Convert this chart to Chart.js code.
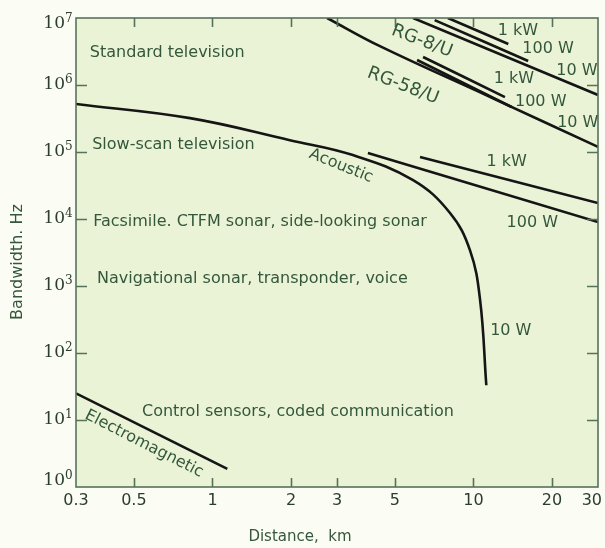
<!DOCTYPE html>
<html>
<head>
<meta charset="utf-8">
<title>Bandwidth vs distance</title>
<script src="https://cdn.jsdelivr.net/npm/chart.js@4/dist/chart.umd.min.js"></script>
<style>
  html, body { margin: 0; padding: 0; background: #fbfcf3; }
  #wrap { width: 605px; height: 548px; }
</style>
</head>
<body>
<div id="wrap"><canvas id="chart" width="605" height="548"></canvas></div>
<script>
// axis ticks
const xTicks = [0.3, 0.5, 1, 2, 3, 5, 10, 20, 30];
const xTickLabels = ['0.3', '0.5', '1', '2', '3', '5', '10', '20', '30'];
const yExponents = [0, 1, 2, 3, 4, 5, 6, 7];

// acoustic links (distance km, bandwidth Hz)
const acoustic10WKm = [0.3, 0.82, 1.98, 3.45, 5.87, 8.13, 9.7, 10.6, 11.2];
const acoustic10WHz = [5.2e5, 3.2e5, 1.5e5, 9.0e4, 3.8e4, 1.23e4, 3.4e3, 620, 33];
const acoustic100WKm = [3.94, 30];
const acoustic100WHz = [9.7e4, 9.0e3];
const acoustic1kWKm = [6.24, 30];
const acoustic1kWHz = [8.4e4, 1.73e4];

// coaxial cable RG-8/U
const rg8_10WKm = [5.87, 30];
const rg8_10WHz = [1e7, 7.1e5];
const rg8_100WKm = [7.1, 16.2];
const rg8_100WHz = [9.3e6, 2.28e6];
const rg8_1kWKm = [7.98, 13.6];
const rg8_1kWHz = [1e7, 4.1e6];

// coaxial cable RG-58/U
const rg58_10WKm = [2.75, 4.38, 11.6, 30];
const rg58_10WHz = [1e7, 3.8e6, 6.6e5, 1.19e5];
const rg58_100WKm = [6.08, 14.0];
const rg58_100WHz = [2.36e6, 4.7e5];
const rg58_1kWKm = [6.41, 13.2];
const rg58_1kWHz = [2.62e6, 6.6e5];

// electromagnetic (low frequency) link
const emKm = [0.3, 1.14];
const emHz = [25, 1.86];

const plotFill = '#ebf3d6';
const frameColor = '#55725a';
const textColor = '#33573b';
const numColor = '#2c3d2e';
const inkColor = '#151515';
const labelFont = '16px "DejaVu Sans"';

// application bands, left aligned
const bandLabels = [
  { text: 'Standard television', km: 0.339, hz: 3.0e6 },
  { text: 'Slow-scan television', km: 0.346, hz: 1.27e5 },
  { text: 'Facsimile. CTFM sonar, side-looking sonar', km: 0.349, hz: 9.0e3 },
  { text: 'Navigational sonar, transponder, voice', km: 0.361, hz: 1.27e3 },
  { text: 'Control sensors, coded communication', km: 0.537, hz: 13.2 }
];

// transmitter power next to each curve
const powerLabels = [
  { text: '1 kW', km: 14.8, hz: 6.4e6 },
  { text: '100 W', km: 19.3, hz: 3.44e6 },
  { text: '10 W', km: 24.9, hz: 1.62e6 },
  { text: '1 kW', km: 14.3, hz: 1.23e6 },
  { text: '100 W', km: 18.1, hz: 5.57e5 },
  { text: '10 W', km: 25.1, hz: 2.71e5 },
  { text: '1 kW', km: 13.4, hz: 7.1e4 },
  { text: '100 W', km: 16.8, hz: 8.7e3 },
  { text: '10 W', km: 13.9, hz: 213 }
];

// medium names written along the curves
const mediumLabels = [
  { text: 'RG-8/U', km: 6.35, hz: 4.5e6, angle: 21, size: 18 },
  { text: 'RG-58/U', km: 5.37, hz: 9.7e5, angle: 21, size: 18 },
  { text: 'Acoustic', km: 3.11, hz: 6.2e4, angle: 22, size: 16 },
  { text: 'Electromagnetic', km: 0.547, hz: 4.4, angle: 27, size: 16 }
];

function curve(xs, ys) {
  return {
    data: xs.map((x, i) => ({ x: x, y: ys[i] })),
    borderColor: inkColor,
    borderWidth: 2.6,
    pointRadius: 0,
    fill: false,
    tension: 0.4
  };
}

const decor = {
  id: 'decor',
  beforeDraw(chart) {
    const { ctx, chartArea: a } = chart;
    ctx.save();
    ctx.fillStyle = plotFill;
    ctx.fillRect(a.left, a.top, a.right - a.left, a.bottom - a.top);
    ctx.restore();
  },
  afterDraw(chart) {
    const { ctx, chartArea: a } = chart;
    const xs = chart.scales.x, ys = chart.scales.y;
    ctx.save();

    // frame with inward ticks on all four sides
    ctx.strokeStyle = frameColor;
    ctx.lineWidth = 1.6;
    ctx.strokeRect(a.left, a.top, a.right - a.left, a.bottom - a.top);
    ctx.beginPath();
    xTicks.forEach(v => {
      const px = Math.round(xs.getPixelForValue(v)) + 0.5;
      if (px <= a.left + 2 || px >= a.right - 2) return;
      ctx.moveTo(px, a.bottom); ctx.lineTo(px, a.bottom - 9);
      ctx.moveTo(px, a.top); ctx.lineTo(px, a.top + 9);
    });
    yExponents.forEach(e => {
      const py = Math.round(ys.getPixelForValue(Math.pow(10, e))) + 0.5;
      if (py <= a.top + 2 || py >= a.bottom - 2) return;
      ctx.moveTo(a.left, py); ctx.lineTo(a.left + 11, py);
      ctx.moveTo(a.right, py); ctx.lineTo(a.right - 11, py);
    });
    ctx.stroke();

    // x tick labels
    ctx.fillStyle = numColor;
    ctx.font = '16px "DejaVu Sans"';
    ctx.textBaseline = 'middle';
    xTicks.forEach((v, i) => {
      const px = xs.getPixelForValue(v);
      if (i === xTicks.length - 1) {
        ctx.textAlign = 'right';
        ctx.fillText(xTickLabels[i], a.right + 4, a.bottom + 14);
      } else {
        ctx.textAlign = 'center';
        ctx.fillText(xTickLabels[i], px, a.bottom + 14);
      }
    });

    // y tick labels as powers of ten
    yExponents.forEach(e => {
      let py = ys.getPixelForValue(Math.pow(10, e));
      if (e === 7) py += 6;
      if (e === 0) py -= 6;
      ctx.font = '17px "DejaVu Serif"';
      ctx.textAlign = 'right';
      ctx.textBaseline = 'middle';
      ctx.fillText('10', a.left - 11, py);
      ctx.font = '12px "DejaVu Serif"';
      ctx.textAlign = 'left';
      ctx.textBaseline = 'top';
      ctx.fillText(String(e), a.left - 11, py - 11);
    });

    // axis titles
    ctx.fillStyle = textColor;
    ctx.font = '15px "DejaVu Sans"';
    ctx.textAlign = 'center';
    ctx.textBaseline = 'middle';
    ctx.fillText('Distance,  km', 300, 537);
    ctx.save();
    ctx.translate(18, 262);
    ctx.rotate(-Math.PI / 2);
    ctx.font = '16px "DejaVu Sans"';
    ctx.fillText('Bandwidth. Hz', 0, 0);
    ctx.restore();

    // annotations inside the plot
    ctx.font = labelFont;
    ctx.textAlign = 'left';
    bandLabels.forEach(l => {
      ctx.fillText(l.text, xs.getPixelForValue(l.km), ys.getPixelForValue(l.hz));
    });
    ctx.save();
    ctx.beginPath();
    ctx.rect(a.left, a.top, a.right - a.left, a.bottom - a.top);
    ctx.clip();
    ctx.textAlign = 'center';
    powerLabels.forEach(l => {
      ctx.fillText(l.text, xs.getPixelForValue(l.km), ys.getPixelForValue(l.hz));
    });
    mediumLabels.forEach(l => {
      ctx.save();
      ctx.translate(xs.getPixelForValue(l.km), ys.getPixelForValue(l.hz));
      ctx.rotate(l.angle * Math.PI / 180);
      ctx.font = l.size + 'px "DejaVu Sans"';
      ctx.fillText(l.text, 0, 0);
      ctx.restore();
    });
    ctx.restore();

    ctx.restore();
  }
};

new Chart(document.getElementById('chart'), {
  type: 'line',
  data: {
    datasets: [
      curve(acoustic10WKm, acoustic10WHz),
      curve(acoustic100WKm, acoustic100WHz),
      curve(acoustic1kWKm, acoustic1kWHz),
      curve(rg8_10WKm, rg8_10WHz),
      curve(rg8_100WKm, rg8_100WHz),
      curve(rg8_1kWKm, rg8_1kWHz),
      curve(rg58_10WKm, rg58_10WHz),
      curve(rg58_100WKm, rg58_100WHz),
      curve(rg58_1kWKm, rg58_1kWHz),
      curve(emKm, emHz)
    ]
  },
  options: {
    responsive: false,
    animation: false,
    devicePixelRatio: 1,
    layout: { padding: { top: 18, right: 7, left: 0, bottom: 0 } },
    plugins: { legend: { display: false }, tooltip: { enabled: false } },
    scales: {
      x: {
        type: 'logarithmic', min: 0.3, max: 30,
        ticks: { display: false }, grid: { display: false }, border: { display: false },
        afterFit: s => { s.height = 61; }
      },
      y: {
        type: 'logarithmic', min: 1, max: 1e7,
        ticks: { display: false }, grid: { display: false }, border: { display: false },
        afterFit: s => { s.width = 76; }
      }
    }
  },
  plugins: [decor]
});
</script>
</body>
</html>
